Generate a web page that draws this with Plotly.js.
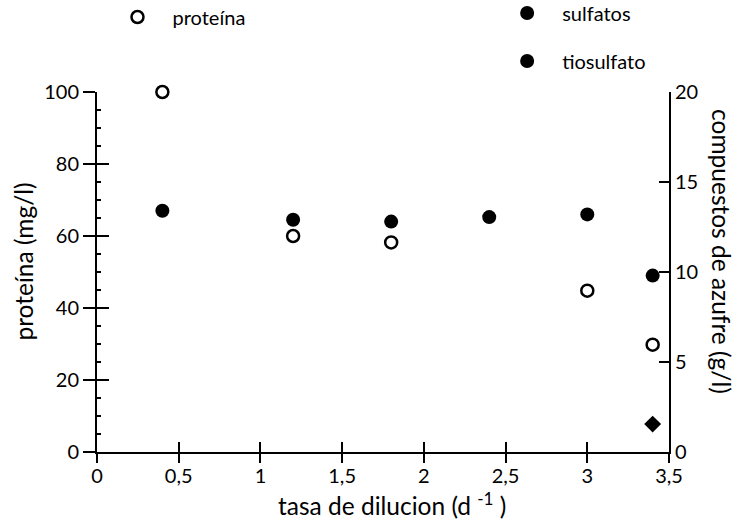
<!DOCTYPE html>
<html>
<head>
<meta charset="utf-8">
<script src="https://cdn.plot.ly/plotly-3.0.1.min.js"></script>
<style>html,body{margin:0;padding:0;background:#fff;}#chart{width:746px;height:521px;}</style>
</head>
<body>
<div id="chart"></div>
<script>
// Data
const proteinaX = [0.4, 1.2, 1.8, 3.0, 3.4];
const proteina = [100, 60, 58.2, 44.8, 29.8];
const sulfatosX = [0.4, 1.2, 1.8, 2.4, 3.0, 3.4];
const sulfatos = [13.4, 12.9, 12.8, 13.05, 13.2, 9.8];
const tiosulfatoX = [3.4];
const tiosulfato = [1.55];
const xTicks = [0, 0.5, 1, 1.5, 2, 2.5, 3, 3.5];
const xTickText = ['0', '0,5', '1', '1,5', '2', '2,5', '3', '3,5'];
const xTitle = 'tasa de dilucion (d&nbsp;<sup>-1</sup>&nbsp;)';
const yTitle = 'proteína (mg/l)';
const y2Title = 'compuestos de azufre (g/l)';

const FONT = 'Lato, "Open Sans", sans-serif';

const traces = [
  {x: proteinaX, y: proteina, name: 'proteína', type: 'scatter', mode: 'markers', yaxis: 'y', legend: 'legend',
   cliponaxis: false,
   marker: {symbol: 'circle-open', size: 12, color: '#000', line: {width: 2.5, color: '#000'}}},
  {x: sulfatosX, y: sulfatos, name: 'sulfatos', type: 'scatter', mode: 'markers', yaxis: 'y2', legend: 'legend2',
   cliponaxis: false,
   marker: {symbol: 'circle', size: 14, color: '#000'}},
  {x: tiosulfatoX, y: tiosulfato, name: 'tiosulfato', type: 'scatter', mode: 'markers', yaxis: 'y2', showlegend: false,
   cliponaxis: false,
   marker: {symbol: 'diamond', size: 13, color: '#000'}},
  // legend-only entry (reference legend shows a round symbol for tiosulfato); also carries the overlay tick axes
  {x: [null], y: [null], name: 'tiosulfato', type: 'scatter', mode: 'markers', xaxis: 'x2', yaxis: 'y3', legend: 'legend3',
   hoverinfo: 'skip',
   marker: {symbol: 'circle', size: 14, color: '#000'}}
];

const PLOT_TOP = 92, PLOT_H = 360, PLOT_L = 96.5, PLOT_W = 572.5, W = 746, H = 521;
const px = p => (p - PLOT_L) / PLOT_W;             // pixel col -> paper x
const py = p => (PLOT_TOP + PLOT_H - p) / PLOT_H;  // pixel row -> paper y
const cy = p => 1 - p / H;                         // pixel row -> container y

const legendBase = {bgcolor: 'rgba(0,0,0,0)', borderwidth: 0, font: {family: FONT, size: 20, color: '#000'},
  xref: 'paper', yref: 'container', xanchor: 'left', yanchor: 'middle', itemwidth: 60};
const titleFont = {family: FONT, size: 24.5, color: '#000'};

const layout = {
  width: W, height: H,
  margin: {l: PLOT_L, r: W - PLOT_L - PLOT_W, t: PLOT_TOP, b: H - PLOT_TOP - PLOT_H},
  paper_bgcolor: '#fff', plot_bgcolor: '#fff',
  font: {family: FONT, color: '#000'},
  showlegend: true,
  legend: Object.assign({}, legendBase, {x: px(102), y: cy(17)}),
  legend2: Object.assign({}, legendBase, {x: px(492), y: cy(13)}),
  legend3: Object.assign({}, legendBase, {x: px(492), y: cy(61)}),
  annotations: [
    {text: xTitle, xref: 'paper', yref: 'paper', x: px(276), y: py(504), xanchor: 'left', yanchor: 'middle',
     showarrow: false, font: titleFont},
    {text: yTitle, xref: 'paper', yref: 'paper', x: px(22), y: py(262), xanchor: 'center', yanchor: 'middle',
     textangle: -90, showarrow: false, font: titleFont},
    {text: y2Title, xref: 'paper', yref: 'paper', x: px(722), y: py(252), xanchor: 'center', yanchor: 'middle',
     textangle: 90, showarrow: false, font: titleFont}
  ],
  xaxis: {
    range: [0, 3.5], tickvals: xTicks, ticktext: xTickText,
    showgrid: false, zeroline: false, showline: true, linecolor: '#000', linewidth: 2,
    ticks: 'inside', ticklen: 10, tickwidth: 2, tickcolor: '#000', ticklabelstandoff: 5,
    tickfont: {family: FONT, size: 20, color: '#000'}
  },
  xaxis2: {
    range: [0, 3.5], tickvals: xTicks, overlaying: 'x', anchor: 'y', side: 'bottom',
    showgrid: false, zeroline: false, showline: false, showticklabels: false,
    ticks: 'outside', ticklen: 10, tickwidth: 2, tickcolor: '#000'
  },
  yaxis: {
    range: [0, 100], dtick: 20, tick0: 0,
    showgrid: false, zeroline: false, showline: true, linecolor: '#000', linewidth: 2,
    ticks: 'outside', ticklen: 12, tickwidth: 2, tickcolor: '#000',
    tickfont: {family: FONT, size: 20, color: '#000'}
  },
  yaxis3: {
    range: [0, 100], dtick: 20, tick0: 0, overlaying: 'y', anchor: 'x', side: 'left',
    showgrid: false, zeroline: false, showline: false, showticklabels: false,
    ticks: 'inside', ticklen: 12, tickwidth: 2, tickcolor: '#000',
    minor: {dtick: 5, ticks: 'inside', ticklen: 4, tickwidth: 2, tickcolor: '#000', showgrid: false}
  },
  yaxis2: {
    range: [0, 20], dtick: 5, tick0: 0, overlaying: 'y', anchor: 'x', side: 'right',
    showgrid: false, zeroline: false, showline: true, linecolor: '#000', linewidth: 2,
    ticks: 'inside', ticklen: 10, tickwidth: 2, tickcolor: '#000',
    tickfont: {family: FONT, size: 20, color: '#000'}
  }
};

Plotly.newPlot('chart', traces, layout, {displayModeBar: false, staticPlot: true});
</script>
</body>
</html>
